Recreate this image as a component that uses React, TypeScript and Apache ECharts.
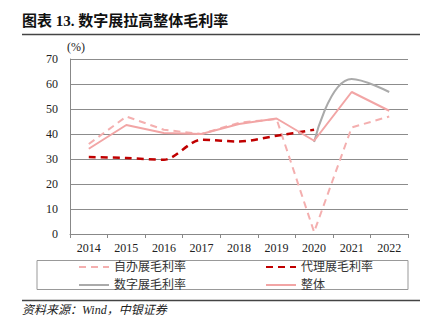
import React, { useEffect, useRef } from "react";
import * as echarts from "echarts";

const years = ["2014", "2015", "2016", "2017", "2018", "2019", "2020", "2021", "2022"];
const selfRun = [36, 47, 41.7, 40, 44.5, 46, 0.8, 42.6, 47];
const agency = [30.8, 30.4, 29.7, 37.7, 37, 39.3, 41.7, null, null];
const digital = [null, null, null, null, null, null, 36.8, 62, 56.8];
const overall = [34.1, 43.6, 40.4, 40, 44, 46.2, 37.3, 56.8, 49.3];
const yTicks = [0, 10, 20, 30, 40, 50, 60, 70];

const serif = "'Liberation Serif', 'Times New Roman', 'Noto Sans CJK SC', serif";

export default function App() {
  const ref = useRef<HTMLDivElement>(null);
  useEffect(() => {
    const chart = echarts.init(ref.current!, null, { renderer: "svg" });
    const legendText = { fontSize: 12, color: "#333", fontFamily: serif };
    const legendBase = {
      orient: "vertical",
      top: 256,
      itemWidth: 30,
      itemHeight: 10,
      itemGap: 6,
      textStyle: legendText,
      itemStyle: { opacity: 0 },
    };
    chart.setOption({
      animation: false,
      backgroundColor: "#fff",
      grid: { left: 70, right: 30, top: 59, bottom: 100 },
      xAxis: {
        type: "category",
        data: years,
        boundaryGap: true,
        axisLine: { lineStyle: { color: "#888", width: 1 } },
        axisTick: { show: true, alignWithLabel: false, lineStyle: { color: "#888" }, length: 4 },
        axisLabel: { color: "#222", fontSize: 12, fontFamily: serif, margin: 8 },
      },
      yAxis: {
        type: "value",
        min: yTicks[0],
        max: yTicks[yTicks.length - 1],
        interval: 10,
        axisLine: { show: true, lineStyle: { color: "#888" } },
        axisTick: { show: false },
        axisLabel: { color: "#222", fontSize: 12, fontFamily: serif, margin: 12 },
        splitLine: { lineStyle: { color: "#8c8c8c", width: 1 } },
      },
      legend: [
        { ...legendBase, left: 73, data: ["自办展毛利率", "数字展毛利率"] },
        { ...legendBase, left: 260, data: ["代理展毛利率", "整体"] },
      ],
      graphic: [
        {
          type: "text",
          left: 22,
          top: 13,
          style: {
            text: "图表 13. 数字展拉高整体毛利率",
            font: "bold 15px " + serif,
            fill: "#111",
          },
        },
        {
          type: "line",
          shape: { x1: 22, y1: 34.5, x2: 420, y2: 34.5 },
          style: { stroke: "#444", lineWidth: 1.5 },
        },
        {
          type: "text",
          left: 67,
          top: 41,
          style: { text: "(%)", font: "12px " + serif, fill: "#222" },
        },
        {
          type: "rect",
          shape: { x: 37, y: 260.5, width: 371, height: 29 },
          style: { fill: "none", stroke: "#999", lineWidth: 1 },
        },
        {
          type: "line",
          shape: { x1: 22, y1: 300.5, x2: 420, y2: 300.5 },
          style: { stroke: "#444", lineWidth: 1.5 },
        },
        {
          type: "text",
          left: 22,
          top: 304,
          style: {
            text: "资料来源：Wind，中银证券",
            font: "italic 12px " + serif,
            fill: "#222",
          },
        },
      ],
      series: [
        {
          name: "自办展毛利率",
          type: "line",
          data: selfRun,
          showSymbol: false,
          symbol: "none",
          lineStyle: { color: "#F4AFAF", width: 2, type: [7, 5] },
          itemStyle: { color: "#F4AFAF" },
        },
        {
          name: "代理展毛利率",
          type: "line",
          data: agency,
          smooth: 0.3,
          showSymbol: false,
          symbol: "none",
          lineStyle: { color: "#C00000", width: 2.5, type: [7, 5] },
          itemStyle: { color: "#C00000" },
        },
        {
          name: "数字展毛利率",
          type: "line",
          data: digital,
          smooth: 0.45,
          showSymbol: false,
          symbol: "none",
          lineStyle: { color: "#AAAAAA", width: 2 },
          itemStyle: { color: "#AAAAAA" },
        },
        {
          name: "整体",
          type: "line",
          data: overall,
          showSymbol: false,
          symbol: "none",
          lineStyle: { color: "#F2A5A5", width: 2 },
          itemStyle: { color: "#F2A5A5" },
        },
      ],
    });
    return () => chart.dispose();
  }, []);
  return <div ref={ref} style={{ width: 438, height: 334, position: "absolute", left: 0, top: 0 }} />;
}
